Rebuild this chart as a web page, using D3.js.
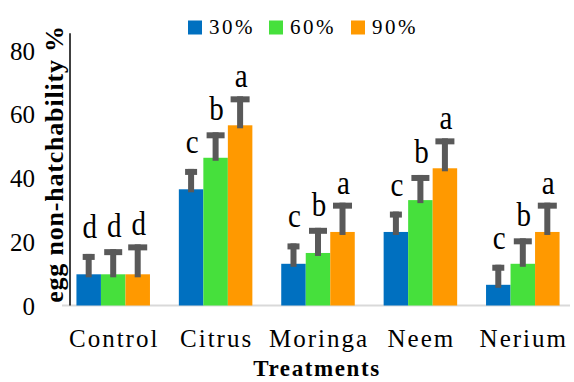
<!DOCTYPE html>
<html>
<head>
<meta charset="utf-8">
<script src="https://cdn.jsdelivr.net/npm/d3@7"></script>
</head>
<body style="margin:0;padding:0;background:#fff">
<svg id="chart" width="574" height="382" font-family="Liberation Serif"></svg>
<script>
// ---- data ----
const categories = ["Control", "Citrus", "Moringa", "Neem", "Nerium"];
const seriesNames = ["30%", "60%", "90%"];
const values30 = [9.8, 36.5, 13.1, 23.1, 6.5];
const values60 = [9.8, 46.4, 16.5, 33.1, 13.1];
const values90 = [9.8, 56.6, 23.1, 43.1, 23.1];
const err30 = [6.4, 6.4, 6.4, 6.4, 6.3];
const err60 = [7.9, 8.0, 7.9, 7.9, 8.0];
const err90 = [9.4, 9.1, 9.2, 9.4, 9.2];
const letters30 = ["d", "c", "c", "c", "c"];
const letters60 = ["d", "b", "b", "b", "b"];
const letters90 = ["d", "a", "a", "a", "a"];
const yTicks = [0, 20, 40, 60, 80];

// ---- styles ----
const FONT = "Liberation Serif";
const colors = ["#0070C0", "#46E03C", "#FF9900"];
const capWidths = [12, 18, 19];
const labelGap = [16, 12, 9];
const errColor = "#595959";

const seriesValues = [values30, values60, values90];
const seriesErr = [err30, err60, err90];
const seriesLetters = [letters30, letters60, letters90];

const svg = d3.select("#chart");

const x = d3.scaleBand().domain(categories).range([62, 574])
  .paddingInner(0.282).paddingOuter(0.141);
const xi = d3.scaleBand().domain(seriesNames).range([0, x.bandwidth()]);
const y = d3.scaleLinear().domain([0, 80]).range([305.5, 50.8]);

// x axis line (gray)
svg.append("line")
  .attr("x1", 62).attr("x2", 570)
  .attr("y1", y(0)).attr("y2", y(0))
  .attr("stroke", "#d9d9d9").attr("stroke-width", 2);

// bars
const data = [];
categories.forEach((c, ci) => {
  seriesNames.forEach((s, si) => {
    data.push({ c, s, si, v: seriesValues[si][ci], e: seriesErr[si][ci], l: seriesLetters[si][ci] });
  });
});

svg.append("g").selectAll("rect").data(data).join("rect")
  .attr("x", d => x(d.c) + xi(d.s))
  .attr("width", xi.bandwidth())
  .attr("y", d => y(d.v))
  .attr("height", d => y(0) - y(d.v))
  .attr("fill", d => colors[d.si]);

// error bars + letters
const eg = svg.append("g");
data.forEach(d => {
  const cx = x(d.c) + xi(d.s) + xi.bandwidth() / 2;
  const top = y(d.v + d.e);
  eg.append("rect")
    .attr("x", cx - 3).attr("width", 6)
    .attr("y", top).attr("height", y(d.v) + 3 - top)
    .attr("fill", errColor);
  eg.append("rect")
    .attr("x", cx - capWidths[d.si] / 2).attr("width", capWidths[d.si])
    .attr("y", top).attr("height", 6)
    .attr("fill", errColor);
  svg.append("text")
    .attr("transform", `translate(${cx + 1},${top - labelGap[d.si]}) scale(0.88,1)`)
    .attr("text-anchor", "middle")
    .attr("font-family", FONT)
    .attr("font-size", 33)
    .attr("fill", "#000")
    .text(d.l);
});

// y axis
svg.append("line")
  .attr("x1", 70).attr("x2", 70)
  .attr("y1", y(0)).attr("y2", y(85.5))
  .attr("stroke", "#000").attr("stroke-width", 1.5);

const yAxis = d3.axisLeft(y).tickValues(yTicks).tickSize(0).tickPadding(0);
const ya = svg.append("g").attr("transform", "translate(35,0)").call(yAxis)
  .attr("font-family", FONT);
ya.select(".domain").remove();
ya.selectAll("text")
  .attr("font-family", FONT)
  .attr("font-size", 25)
  .attr("fill", "#000")
  .attr("dy", "0.34em");

// category labels
const xAxis = d3.axisBottom(x).tickSize(0).tickPadding(0);
const xa = svg.append("g").attr("transform", "translate(1,346.7)").call(xAxis)
  .attr("font-family", FONT);
xa.select(".domain").remove();
xa.selectAll("text")
  .attr("font-family", FONT)
  .attr("font-size", 25)
  .attr("letter-spacing", 2)
  .attr("fill", "#000")
  .attr("dy", 0);

// axis titles
svg.append("text")
  .attr("x", 317).attr("y", 375.5)
  .attr("text-anchor", "middle")
  .attr("font-family", FONT)
  .attr("font-size", 23)
  .attr("font-weight", "bold")
  .attr("letter-spacing", 1.6)
  .text("Treatments");

svg.append("text")
  .attr("transform", "translate(63,164) rotate(-90)")
  .attr("text-anchor", "middle")
  .attr("font-family", FONT)
  .attr("font-size", 26)
  .attr("font-weight", "bold")
  .attr("letter-spacing", 0.8)
  .text("egg non-hatchability %");

// legend
const legendX = [188, 269, 351];
const lg = svg.append("g");
seriesNames.forEach((s, i) => {
  lg.append("rect")
    .attr("x", legendX[i]).attr("y", 20.5)
    .attr("width", 14).attr("height", 14)
    .attr("fill", colors[i]);
  lg.append("text")
    .attr("x", legendX[i] + 21).attr("y", 34)
    .attr("font-family", FONT)
    .attr("font-size", 21)
    .attr("letter-spacing", 2.5)
    .text(s);
});
</script>
</body>
</html>
